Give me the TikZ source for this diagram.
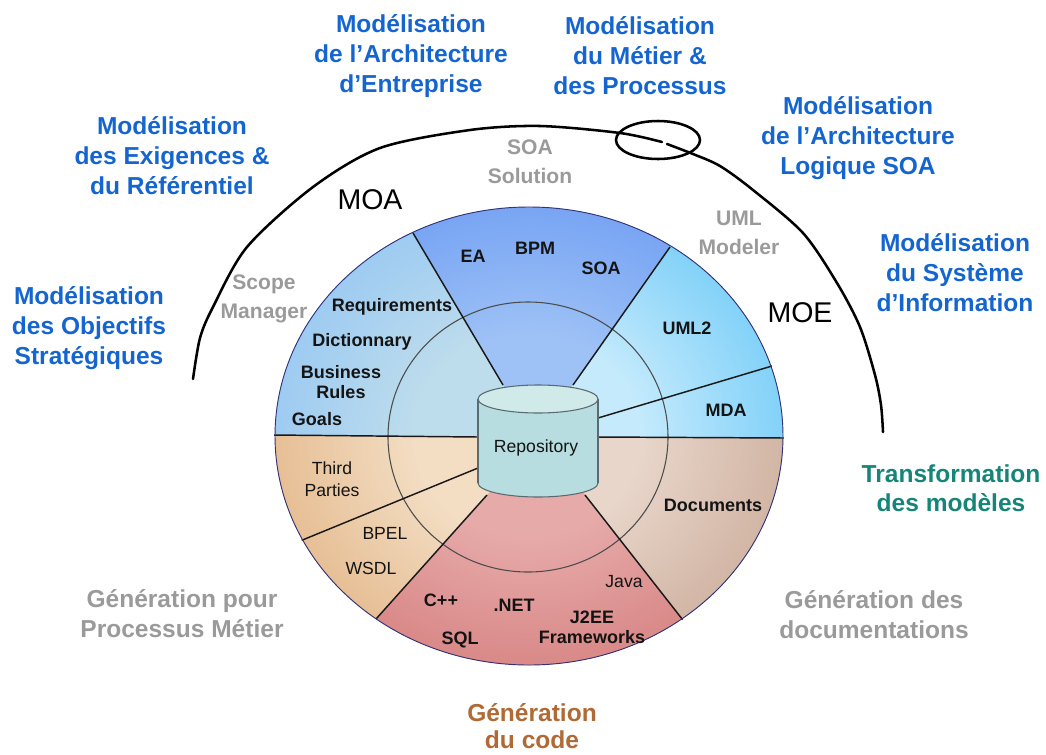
\documentclass[tikz,border=0pt]{standalone}
\usepackage{fontspec}
\setmainfont{Liberation Sans}
\definecolor{ulIn}{HTML}{BEDDEC}
\definecolor{ulOut}{HTML}{8CC1F5}
\definecolor{topIn}{HTML}{9EC2F6}
\definecolor{topOut}{HTML}{6898F2}
\definecolor{urIn}{HTML}{C4EAFC}
\definecolor{urOut}{HTML}{5EC4F7}
\definecolor{docIn}{HTML}{E8D6CA}
\definecolor{docOut}{HTML}{BD9783}
\definecolor{redIn}{HTML}{E6AAA9}
\definecolor{redOut}{HTML}{D07473}
\definecolor{tanIn}{HTML}{F3DEC4}
\definecolor{tanOut}{HTML}{DBA26A}
\definecolor{titleBlue}{HTML}{1565D0}
\definecolor{lblGray}{HTML}{9A9A9A}
\definecolor{lblTeal}{HTML}{168578}
\definecolor{lblBrown}{HTML}{B06A35}
\definecolor{cylBody}{HTML}{B8DDE0}
\definecolor{cylTop}{HTML}{D0E9E9}
\definecolor{cylLine}{HTML}{5A6A70}
\pgfdeclareradialshading{shul}{\pgfpointorigin}{color(0bp)=(ulIn);color(11bp)=(ulIn);color(33bp)=(ulOut);color(50bp)=(ulOut)}
\pgfdeclareradialshading{shtop}{\pgfpointorigin}{color(0bp)=(topIn);color(11bp)=(topIn);color(31bp)=(topOut);color(50bp)=(topOut)}
\pgfdeclareradialshading{shur}{\pgfpointorigin}{color(0bp)=(urIn);color(11bp)=(urIn);color(33bp)=(urOut);color(50bp)=(urOut)}
\pgfdeclareradialshading{shdoc}{\pgfpointorigin}{color(0bp)=(docIn);color(11bp)=(docIn);color(38bp)=(docOut);color(50bp)=(docOut)}
\pgfdeclareradialshading{shred}{\pgfpointorigin}{color(0bp)=(redIn);color(11bp)=(redIn);color(34bp)=(redOut);color(50bp)=(redOut)}
\pgfdeclareradialshading{shtan}{\pgfpointorigin}{color(0bp)=(tanIn);color(11bp)=(tanIn);color(38bp)=(tanOut);color(50bp)=(tanOut)}
\newcommand\mysector[2]{\begin{scope}\clip #1;\fill[#2Out] (O) ellipse (254 and 229);\shade[shading=sh#2] (O) ellipse (254 and 229);\end{scope}}
\tikzset{
  title/.style={font=\bfseries\fontsize{18.4}{22.5}\selectfont, text=titleBlue, align=center, inner sep=0pt},
  grays/.style={font=\bfseries\fontsize{15.8}{22}\selectfont, text=lblGray, align=center, inner sep=0pt},
  grayb/.style={font=\bfseries\fontsize{18.4}{22.5}\selectfont, text=lblGray, align=center, inner sep=0pt},
  teal/.style={font=\bfseries\fontsize{18.4}{21.8}\selectfont, text=lblTeal, align=center, inner sep=0pt},
  brown/.style={font=\bfseries\fontsize{18.4}{20.5}\selectfont, text=lblBrown, align=center, inner sep=0pt},
  moa/.style={font=\fontsize{21.4}{24}\selectfont, text=black, inner sep=0pt},
  seg/.style={font=\bfseries\fontsize{13.5}{15}\selectfont, text=black!92, align=center, inner sep=0pt},
  segr/.style={font=\fontsize{13.2}{16.5}\selectfont, text=black!92, align=center, inner sep=0pt},
  divider/.style={line width=1.1pt, draw=black!90},
  arcline/.style={line width=1.9pt, draw=black, line cap=round},
}
\begin{document}
\begin{tikzpicture}[x=0.75pt,y=-0.75pt]
\useasboundingbox (0,0) rectangle (1046,754);
\coordinate (O) at (529,436);
% sectors
\mysector{(538,440) -- (503,385) -- (323,81) -- (767,109) -- (573,385) -- cycle}{top}
\mysector{(538,440) -- (573,385) -- (767,109) -- (1000,150) -- (968,439) -- (598,437) -- cycle}{ur}
\mysector{(538,440) -- (598,437) -- (968,439) -- (1000,760) -- (785,751) -- (585,495) -- cycle}{doc}
\mysector{(538,440) -- (585,495) -- (785,751) -- (267,741) -- (487,495) -- cycle}{red}
\mysector{(538,440) -- (487,495) -- (267,741) -- (60,760) -- (72,433) -- (478,437) -- cycle}{tan}
\mysector{(538,440) -- (478,437) -- (72,433) -- (60,80) -- (323,81) -- (503,385) -- cycle}{ul}
% inner ring
\draw[line width=0.8pt, draw=black!70] (528,437) ellipse (140 and 135);
% dividers
\begin{scope}
\clip (O) ellipse (255 and 230);
\draw[divider] (503,385) -- (413,233);
\draw[divider] (573,385) -- (670,247);
\draw[divider] (598,418) -- (772,366);
\draw[divider] (598,437) -- (785,438);
\draw[divider] (478,437) -- (273,435);
\draw[divider] (478,468) -- (300,541);
\draw[divider] (487,495) -- (376,619);
\draw[divider] (585,495) -- (686,624);
\end{scope}
% disk outline
\draw[line width=0.7pt, draw=black!55!blue!60!gray] (O) ellipse (254 and 229);
% cylinder
\fill[cylBody] (478,399) rectangle (598,483);
\fill[cylBody] (538,483) ellipse (60 and 14);
\begin{scope}
\clip (470,483) rectangle (610,510);
\draw[line width=0.8pt, draw=cylLine] (538,483) ellipse (60 and 14);
\end{scope}
\draw[line width=0.8pt, draw=cylLine] (478,399) -- (478,483) (598,399) -- (598,483);
\filldraw[line width=0.8pt, fill=cylTop, draw=cylLine] (538,399) ellipse (60 and 14);
\node[segr] (repo) at (536,448) {Repository};
% outer arc
\draw[arcline] plot[smooth] coordinates {(193,379) (200,338) (213,307) (247,247) (313,187) (380,148) (470,130) (540,126) (620,133) (662,142)};
\draw[arcline] plot[smooth] coordinates {(667,144) (693,154) (720,166) (753,190) (803,233) (837,283) (860,327) (875,375) (881,405) (883,432)};
\draw[line width=1.9pt] (658,140) ellipse (42 and 19);
% MOA / MOE
\node[moa] (moa) at (370,200) {MOA};
\node[moa] (moe) at (800,313) {MOE};
% blue titles
\node[title] (t1) at (411,56) {Modélisation\\de l’Architecture\\d’Entreprise};
\node[title] (t2) at (640,56) {Modélisation\\du Métier \&\\des Processus};
\node[title] (t3) at (858,138) {Modélisation\\de l’Architecture\\Logique SOA};
\node[title] (t4) at (955,273) {Modélisation\\du Système\\d’Information};
\node[title] (t5) at (172,156) {Modélisation\\des Exigences \&\\du Référentiel};
\node[title] (t6) at (89,328) {Modélisation\\des Objectifs\\Stratégiques};
% gray labels
\node[grays] (g1) at (530,162) {SOA\\Solution};
\node[grays] (g2) at (264,299) {Scope\\Manager};
\node[grays] (g3) at (739,233) {UML\\Modeler};
\node[grayb] (g4) at (182,614) {Génération pour\\Processus Métier};
\node[grayb] (g5) at (874,615) {Génération des\\documentations};
\node[teal] (tr) at (951,488) {Transformation\\des modèles};
\node[brown] (gc) at (532,726) {Génération\\du code};
% sector labels
\node[seg] (ea) at (473,256) {EA};
\node[seg] (bpm) at (535,248) {BPM};
\node[seg] (soa) at (601,268) {SOA};
\node[seg] (req) at (392,307) {Requirements};
\node[seg] (dic) at (362,342) {Dictionnary};
\node[seg] (br) at (341,382) {Business\\Rules};
\node[seg] (goals) at (317,419) {Goals};
\node[seg] (uml2) at (687,328) {UML2};
\node[seg] (mda) at (726,410) {MDA};
\node[segr] (tp) at (332,479) {Third\\Parties};
\node[segr] (bpel) at (385,533) {BPEL};
\node[segr] (wsdl) at (371,568) {WSDL};
\node[seg] (cpp) at (441,600) {C++};
\node[seg] (net) at (514,605) {.NET};
\node[seg] (sql) at (460,640) {SQL};
\node[segr] (java) at (624,582) {Java};
\node[seg] (j2ee) at (592,627) {J2EE\\Frameworks};
\node[seg] (docs) at (713,505) {Documents};
\end{tikzpicture}
\end{document}
